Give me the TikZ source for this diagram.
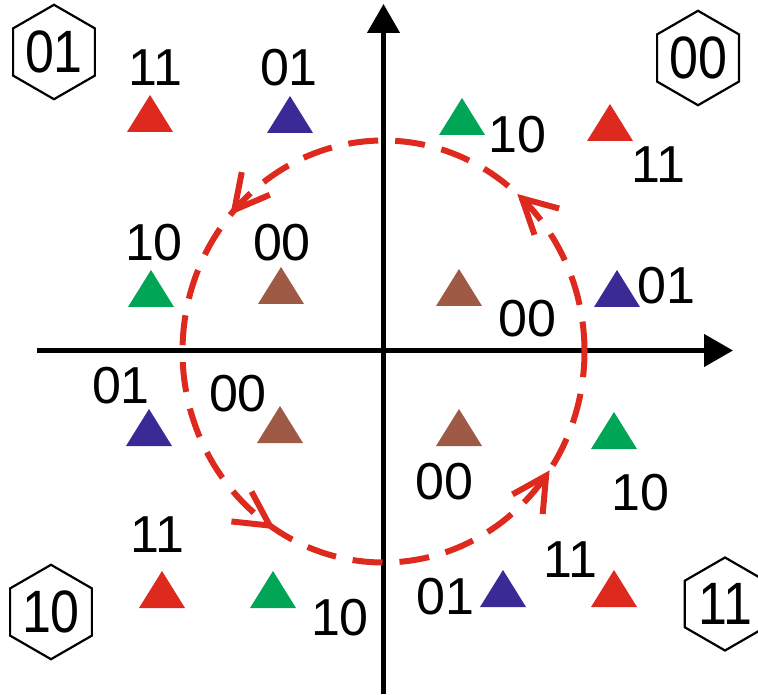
\documentclass[tikz,border=0pt]{standalone}
\usepackage{fontspec}
\usepackage{graphicx}
\setmainfont{Liberation Sans}
\usetikzlibrary{arrows.meta,decorations.markings,shapes.geometric}

\definecolor{symred}{RGB}{222,42,30}
\definecolor{symblue}{RGB}{58,42,150}
\definecolor{symgreen}{RGB}{0,165,85}
\definecolor{symbrown}{RGB}{158,90,68}

\tikzset{
  axis/.style={line width=2.2pt,-{Triangle[length=14.5pt,width=16pt]}},
  code/.style={inner sep=0pt,font=\fontsize{26}{30}\selectfont},
  quadbox/.style={regular polygon,regular polygon sides=6,shape border rotate=30,
    minimum size=46.5pt,inner sep=0pt,draw,line width=1.1pt,font=\fontsize{26}{30}\selectfont},
  rothead/.tip={Straight Barb[length=17pt,width=18pt,line width=3pt]},
  rotpath/.style={draw=symred,line width=3pt,dash pattern=on 15pt off 8.5pt,
    postaction={decorate},
    decoration={markings,
      mark=at position 0.136 with {\arrow{rothead}},
      mark=at position 0.386 with {\arrow{rothead}},
      mark=at position 0.661 with {\arrow{rothead}},
      mark=at position 0.903 with {\arrow{rothead}}}}
}

\begin{document}
\begin{tikzpicture}[x=0.5pt,y=-0.5pt]
  \useasboundingbox (0,0) rectangle (758,694);

  % Axes
  \coordinate (xL) at (37,350.5);
  \coordinate (xR) at (733,350.5);
  \coordinate (yB) at (383.5,694);
  \coordinate (yT) at (383.5,4);
  \draw[axis] (xL) -- (xR);
  \draw[axis] (yB) -- (yT);

  % Constellation points (x, base y, colour)
  \foreach \x/\y/\c in {150/132/symred, 290/133/symblue, 462/135/symgreen, 610/141/symred,
                        151/307/symgreen, 281/304/symbrown, 459/306/symbrown, 617/307/symblue,
                        149/446/symblue, 280/443/symbrown, 459/446/symbrown, 614/449/symgreen,
                        162/608/symred, 273/608/symgreen, 503/607/symblue, 614/607/symred}
    \fill[\c] (\x-23,\y) -- (\x+23,\y) -- (\x,\y-37) -- cycle;

  % Labels of the points
  \node[code] (tlA) at (155,68) {11};
  \node[code] (tlB) at (289,68) {01};
  \node[code] (tlC) at (154,243) {10};
  \node[code] (tlD) at (282,243) {00};
  \node[code] (trA) at (517,135) {10};
  \node[code] (trB) at (658,165) {11};
  \node[code] (trC) at (527,319) {00};
  \node[code] (trD) at (666,286) {01};
  \node[code] (blA) at (121,386) {01};
  \node[code] (blB) at (238,394) {00};
  \node[code] (blC) at (157,535) {11};
  \node[code] (blD) at (340,618) {10};
  \node[code] (brA) at (444,482) {00};
  \node[code] (brB) at (640,493) {10};
  \node[code] (brC) at (445,597) {01};
  \node[code] (brD) at (570,560) {11};

  % Quadrant codes
  \node[quadbox] (qTL) at (54,52) {\scalebox{1}[1.15]{01}};
  \node[quadbox] (qTR) at (698,58) {\scalebox{1}[1.15]{00}};
  \node[quadbox] (qBL) at (51,612) {\scalebox{1}[1.15]{10}};
  \node[quadbox] (qBR) at (725,604) {\scalebox{1}[1.15]{11}};

  % Rotation of the constellation
  \path[rotpath] (584.5,351.5) arc[start angle=0,end angle=-360,x radius=201,y radius=211];
\end{tikzpicture}
\end{document}
